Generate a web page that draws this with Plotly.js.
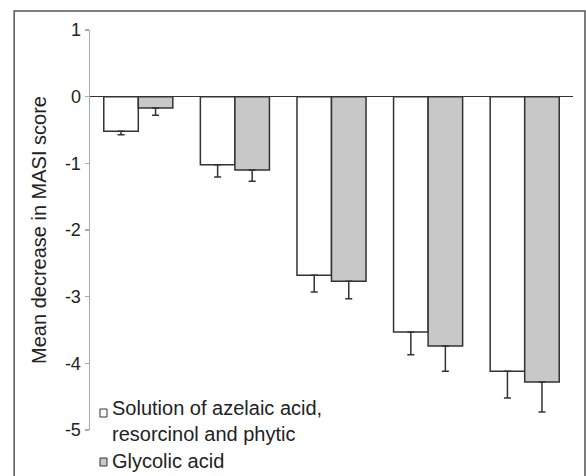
<!DOCTYPE html>
<html>
<head>
<meta charset="utf-8">
<script src="https://cdn.plot.ly/plotly-3.0.1.min.js"></script>
<style>html,body{margin:0;padding:0;background:#fff;}#chart{width:586px;height:476px;}</style>
</head>
<body>
<div id="chart"></div>
<script>
// Data
var categories = ["Visit 1", "Visit 2", "Visit 3", "Visit 4", "Visit 5"];
var seriesNames = ["Solution of azelaic acid,<br>resorcinol and phytic", "Glycolic acid"];
var azelaicMean = [-0.52, -1.02, -2.68, -3.53, -4.12];
var azelaicErr  = [0.05, 0.185, 0.25, 0.34, 0.40];
var glycolicMean = [-0.17, -1.10, -2.77, -3.74, -4.28];
var glycolicErr  = [0.11, 0.17, 0.26, 0.38, 0.45];
var yTickVals = [1, 0, -1, -2, -3, -4, -5];
var yTickText = ["1", "0", "-1", "-2", "-3", "-4", "-5"];

var font = "Liberation Sans, Arial, sans-serif";
var edge = "#333333";
var fills = ["#ffffff", "#c8c8c8"];
var textColor = "#222222";

function zeros(a){ return a.map(function(){ return 0; }); }

var traces = [
  {
    type: "bar", x: categories, y: azelaicMean, name: seriesNames[0], showlegend: false,
    marker: {color: fills[0], line: {color: edge, width: 1.5}},
    error_y: {type: "data", symmetric: false, array: zeros(azelaicErr), arrayminus: azelaicErr,
              color: edge, thickness: 1.5, width: 3.5}
  },
  {
    type: "bar", x: categories, y: glycolicMean, name: seriesNames[1], showlegend: false,
    marker: {color: fills[1], line: {color: edge, width: 1.5}},
    error_y: {type: "data", symmetric: false, array: zeros(glycolicErr), arrayminus: glycolicErr,
              color: edge, thickness: 1.5, width: 3.5}
  }
];

// Key (legend) inside the plot area, lower left
var keyX = 0.0207, keyW = 0.0145, textX = 0.042;
var keyRows = [
  {textY: 0.0225, boxY: [0.0325, 0.0525]},
  {textY: -0.0775, boxY: [-0.09, -0.07]}
];
var annotations = [];
var shapes = [
  {type: "rect", xref: "paper", yref: "paper", x0: -0.157, x1: 1.0248, y0: -0.13, y1: 1.0475,
   line: {color: "#555555", width: 1.5}, fillcolor: "rgba(0,0,0,0)", layer: "below"}
];
keyRows.forEach(function(row, i){
  shapes.push({type: "rect", xref: "paper", yref: "paper", x0: keyX, x1: keyX + keyW,
               y0: row.boxY[0], y1: row.boxY[1], fillcolor: fills[i],
               line: {color: edge, width: 1}, layer: "above"});
  annotations.push({xref: "paper", yref: "paper", x: textX, y: row.textY,
                    xanchor: "left", yanchor: "middle", align: "left", text: seriesNames[i], showarrow: false,
                    font: {family: font, size: 20, color: textColor}});
});

var layout = {
  width: 586, height: 476,
  margin: {l: 90, r: 13, t: 30, b: 46},
  paper_bgcolor: "#ffffff", plot_bgcolor: "#ffffff",
  font: {family: font, size: 18, color: textColor},
  barmode: "group", bargap: 0.285, bargroupgap: 0,
  showlegend: false,
  xaxis: {type: "category", showticklabels: false, showline: false, ticks: "",
          showgrid: false, zeroline: false, fixedrange: true},
  yaxis: {range: [-5, 1], tickvals: yTickVals, ticktext: yTickText, showgrid: false,
          showline: true, linecolor: "#aaaaaa", linewidth: 1.5,
          ticks: "outside", ticklen: 4, tickcolor: "#aaaaaa", tickwidth: 1.5,
          zeroline: true, zerolinecolor: edge, zerolinewidth: 1.5,
          tickfont: {family: font, size: 18, color: textColor},
          title: {text: "Mean decrease in MASI score", font: {family: font, size: 20, color: textColor}, standoff: 13},
          automargin: false, fixedrange: true},
  shapes: shapes,
  annotations: annotations
};

Plotly.newPlot("chart", traces, layout, {staticPlot: true, displayModeBar: false});
</script>
</body>
</html>
